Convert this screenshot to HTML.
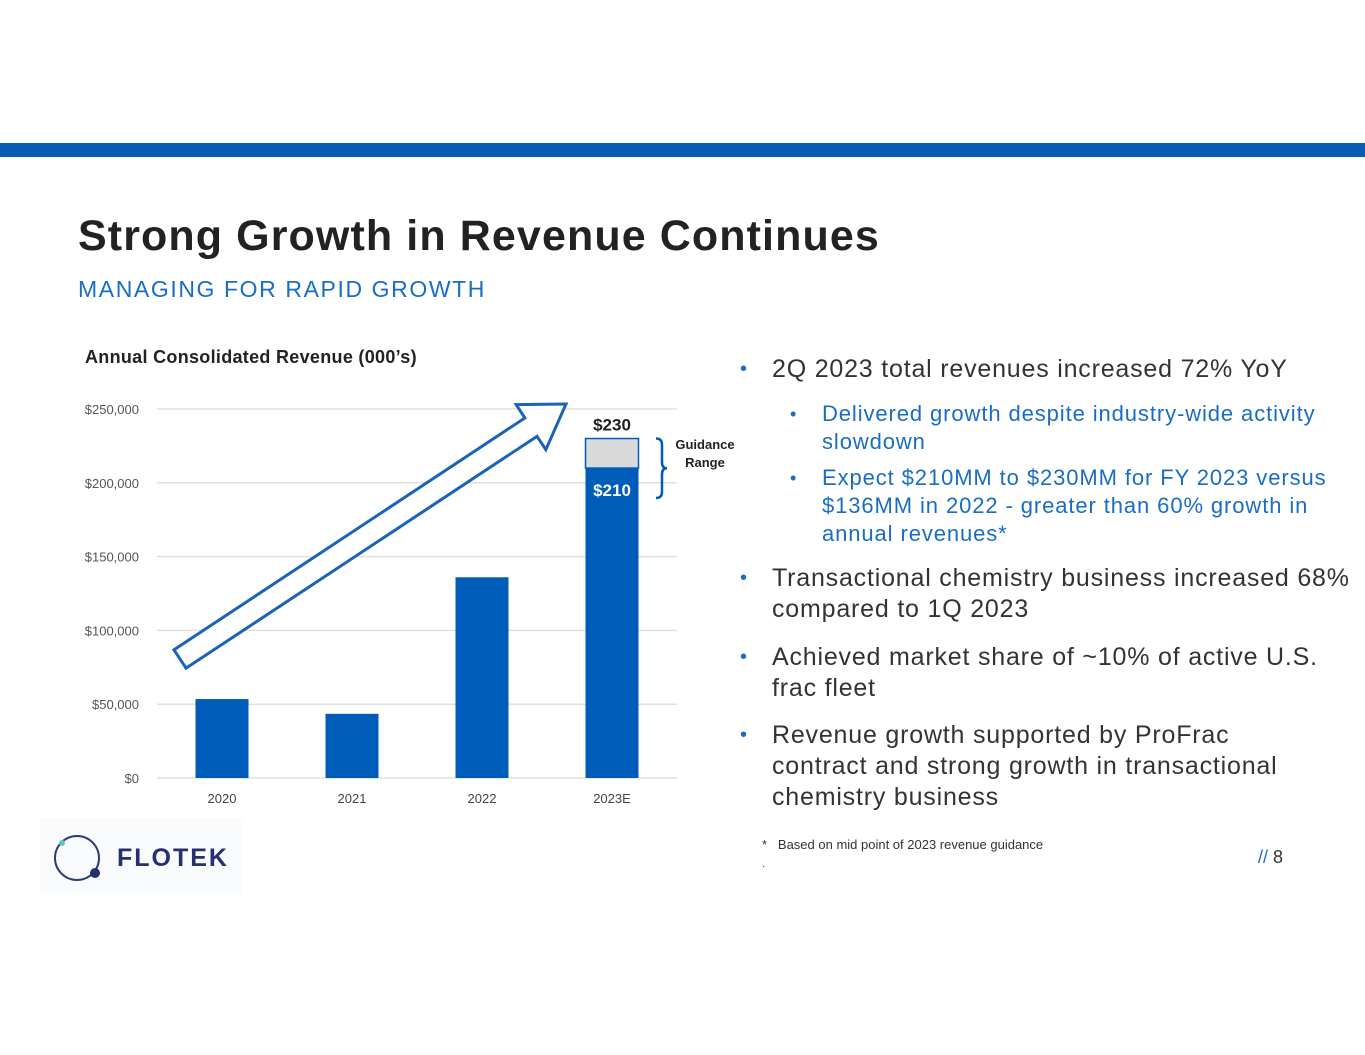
<!DOCTYPE html>
<html><head><meta charset="utf-8"><style>
body{margin:0;width:1365px;height:1055px;background:#fff;position:relative;overflow:hidden;font-family:"Liberation Sans",sans-serif}
.abs{position:absolute}
ul{margin:0;padding:0;list-style:none}
li{position:relative;white-space:nowrap}
.m{font-size:25px;line-height:31px;padding-left:32px;letter-spacing:0.8px}
.s{font-size:22px;line-height:28px;padding-left:82px;color:#1a6dc4;letter-spacing:0.9px}
.d{position:absolute;left:0;color:#1a6dc4;font-size:20px}
.sd{position:absolute;left:50px;font-size:18px}
</style></head><body>
<div class="abs" style="left:0;top:143px;width:1365px;height:14px;background:#0b5cb5"></div>
<div class="abs" style="left:78px;top:212px;font-size:43px;font-weight:bold;color:#222;letter-spacing:1.1px">Strong Growth in Revenue Continues</div>
<div class="abs" style="left:78px;top:276px;font-size:23px;color:#1a6dc4;letter-spacing:1.6px">MANAGING FOR RAPID GROWTH</div>
<div class="abs" style="left:85px;top:347px;font-size:18px;font-weight:bold;color:#222;letter-spacing:0.3px">Annual Consolidated Revenue (000’s)</div>
<svg class="abs" style="left:0;top:0" width="760" height="820" id="chart"></svg>
<div class="abs" style="left:740px;top:354px;width:625px;color:#333">
<ul>
<li class="m"><span class="d">•</span>2Q 2023 total revenues increased 72% YoY</li>
<li class="s" style="margin-top:15px"><span class="sd">•</span>Delivered growth despite industry-wide activity<br>slowdown</li>
<li class="s" style="margin-top:8px"><span class="sd">•</span>Expect $210MM to $230MM for FY 2023 versus<br>$136MM in 2022 - greater than 60% growth in<br>annual revenues*</li>
<li class="m" style="margin-top:15px"><span class="d">•</span>Transactional chemistry business increased 68%<br>compared to 1Q 2023</li>
<li class="m" style="margin-top:17px"><span class="d">•</span>Achieved market share of ~10% of active U.S.<br>frac fleet</li>
<li class="m" style="margin-top:16px"><span class="d">•</span>Revenue growth supported by ProFrac<br>contract and strong growth in transactional<br>chemistry business</li>
</ul></div>
<div class="abs" style="left:762px;top:837px;font-size:13px;color:#333">*&nbsp;&nbsp;&nbsp;Based on mid point of 2023 revenue guidance</div>
<div class="abs" style="left:762px;top:856px;font-size:12px;color:#555">.</div>
<div class="abs" style="left:1258px;top:847px;font-size:18px;color:#333"><span style="color:#1a6dc4">//</span> 8</div>
<div class="abs" style="left:40px;top:818px;width:203px;height:77px;background:#fafbfc">
<svg width="203" height="77" style="position:absolute;left:0;top:0"><circle cx="37" cy="40" r="22" fill="none" stroke="#2f3a78" stroke-width="2"/><circle cx="22" cy="25" r="3" fill="#5cc8b8"/><circle cx="55" cy="55" r="5" fill="#26306e"/></svg>
<div style="position:absolute;left:77px;top:26px;font-size:25px;font-weight:bold;color:#26306e;letter-spacing:2px">FLOTEK</div>
</div>
<script>
const categories=["2020","2021","2022","2023E"];
const revenue=[53500,43500,136000,210000];
const guidanceHigh=230000;
const yTicks=[0,50000,100000,150000,200000,250000];
const yTickLabels=["$0","$50,000","$100,000","$150,000","$200,000","$250,000"];
const ns="http://www.w3.org/2000/svg";
const svg=document.getElementById('chart');
const x0=157,x1=677,yBase=778,yTop=409,yMax=250000;
const y=v=>yBase-(v/yMax)*(yBase-yTop);
const band=(x1-x0)/categories.length;
const xc=i=>x0+band*(i+0.5);
const bw=53;
function mk(t,a){const e=document.createElementNS(ns,t);for(const k in a)e.setAttribute(k,a[k]);svg.appendChild(e);return e;}
yTicks.forEach((v,i)=>{
 const l=mk('line',{x1:x0,x2:x1,y1:y(v),y2:y(v),stroke:'#e0e0e0','stroke-width':1.5});
 
 
 const t=mk('text',{x:139,y:y(v)+5,'text-anchor':'end','font-size':13,fill:'#555'});
 t.textContent=yTickLabels[i];
 
 
});
categories.forEach((c,i)=>{
 const r=mk('rect',{x:xc(i)-bw/2,y:y(revenue[i]),width:bw,height:yBase-y(revenue[i]),fill:'#005cb9'});
 
 
 const t=mk('text',{x:xc(i),y:yBase+25,'text-anchor':'middle','font-size':13,fill:'#444'});
 t.textContent=c;
 
 
});
const li=categories.length-1;
const g=mk('rect',{x:xc(li)-bw/2,y:y(guidanceHigh),width:bw,height:y(revenue[li])-y(guidanceHigh),fill:'#d9d9d9',stroke:'#005cb9','stroke-width':1.5});


const t1=mk('text',{x:xc(li),y:y(guidanceHigh)-8,'text-anchor':'middle','font-size':17,'font-weight':'bold',fill:'#222'});
t1.textContent="$"+guidanceHigh/1000;


const t2=mk('text',{x:xc(li),y:y(revenue[li])+28,'text-anchor':'middle','font-size':17,'font-weight':'bold',fill:'#fff'});
t2.textContent="$"+revenue[li]/1000;


const br=mk('path',{d:`M656 ${y(guidanceHigh)} q6 0 6 6 v${(y(revenue[li])-y(guidanceHigh))/2+3} q0 6 5 6 q-5 0 -5 6 v${(y(revenue[li])-y(guidanceHigh))/2+3} q0 6 -6 6`,fill:'none',stroke:'#005cb9','stroke-width':2.5});


[["Guidance",449],["Range",467]].forEach(([s,yy])=>{const t=mk('text',{x:705,y:yy,'text-anchor':'middle','font-size':13,'font-weight':'bold',fill:'#222'});t.textContent=s;

});
const tx=180,ty=659,hx=566,hy=404;
const dx=hx-tx,dy=hy-ty,L=Math.hypot(dx,dy),ux=dx/L,uy=dy/L,nx=-uy,ny=ux;
const sw=11,hw=27,hl=42;
const bx=hx-ux*hl,by=hy-uy*hl;
const pts=[[tx+nx*sw,ty+ny*sw],[bx+nx*sw,by+ny*sw],[bx+nx*hw,by+ny*hw],[hx,hy],[bx-nx*hw,by-ny*hw],[bx-nx*sw,by-ny*sw],[tx-nx*sw,ty-ny*sw]];
const ar=mk('polygon',{points:pts.map(p=>p.join(',')).join(' '),fill:'#fff',stroke:'#1a63b8','stroke-width':3,'stroke-linejoin':'miter'});


</script>
</body></html>
